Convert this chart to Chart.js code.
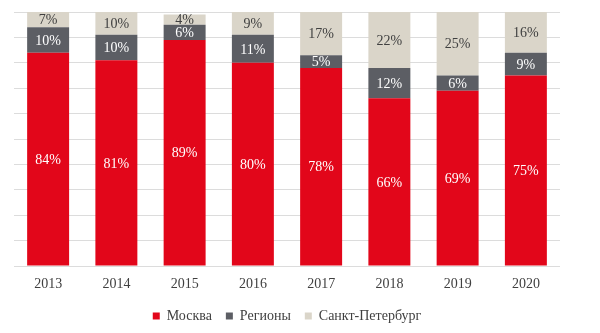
<!DOCTYPE html>
<html>
<head>
<meta charset="utf-8">
<script src="https://cdn.jsdelivr.net/npm/chart.js@4"></script>
<style>
  body { margin: 0; background: #fff; }
  #wrap { width: 600px; height: 333px; }
</style>
</head>
<body>
<div id="wrap"><canvas id="myChart"></canvas></div>
<script>
const years = ["2013", "2014", "2015", "2016", "2017", "2018", "2019", "2020"];
const moscow = [84, 81, 89, 80, 78, 66, 69, 75];
const regions = [10, 10, 6, 11, 5, 12, 6, 9];
const spb = [7, 10, 4, 9, 17, 22, 25, 16];
const yTicks = [0, 10, 20, 30, 40, 50, 60, 70, 80, 90, 100];

const serif = "'Liberation Serif', 'DejaVu Serif', serif";
Chart.defaults.font.family = serif;
Chart.defaults.color = "#404040";

// writes the percentage in the middle of every bar piece
const barLabels = {
  id: "barLabels",
  afterDatasetsDraw(chart) {
    const ctx = chart.ctx;
    ctx.save();
    ctx.font = "14px " + serif;
    ctx.textAlign = "center";
    ctx.textBaseline = "middle";
    chart.data.datasets.forEach((ds, i) => {
      const meta = chart.getDatasetMeta(i);
      meta.data.forEach((bar, j) => {
        const top = Math.max(bar.y, chart.chartArea.top);
        const mid = (top + bar.base) / 2;
        ctx.fillStyle = ds.labelColor;
        ctx.fillText(ds.data[j] + "%", bar.x, mid + 1);
      });
    });
    ctx.restore();
  },
};

function drawChart() {
  const ctx = document.getElementById("myChart").getContext("2d");
  new Chart(ctx, {
    type: "bar",
    data: {
      labels: years,
      datasets: [
        { label: "Москва", data: moscow, backgroundColor: "#e2061a", labelColor: "#ffffff" },
        { label: "Регионы", data: regions, backgroundColor: "#5c5e64", labelColor: "#ffffff" },
        { label: "Санкт-Петербург", data: spb, backgroundColor: "#dad5c9", labelColor: "#404040" },
      ],
    },
    options: {
      animation: false,
      responsive: true,
      maintainAspectRatio: false,
      layout: { padding: { left: 14, right: 40, top: 12, bottom: 0 } },
      datasets: { bar: { barPercentage: 0.615, categoryPercentage: 1 } },
      scales: {
        x: {
          stacked: true,
          grid: { display: false, drawTicks: false },
          border: { display: false },
          ticks: { color: "#404040", font: { family: serif, size: 14 }, padding: 10 },
          afterFit: (axis) => { axis.height = 29; },
        },
        y: {
          stacked: true,
          min: 0,
          max: 100,
          afterBuildTicks: (axis) => { axis.ticks = yTicks.map((v) => ({ value: v })); },
          grid: { color: "#dcdcdc", drawTicks: false },
          border: { display: false },
          ticks: { display: false },
        },
      },
      plugins: {
        tooltip: { enabled: false },
        legend: {
          position: "bottom",
          labels: {
            boxWidth: 7,
            boxHeight: 7,
            color: "#404040",
            font: { family: serif, size: 14 },
            padding: 14,
          },
        },
      },
    },
    plugins: [barLabels],
  });
}

drawChart();
</script>
</body>
</html>
